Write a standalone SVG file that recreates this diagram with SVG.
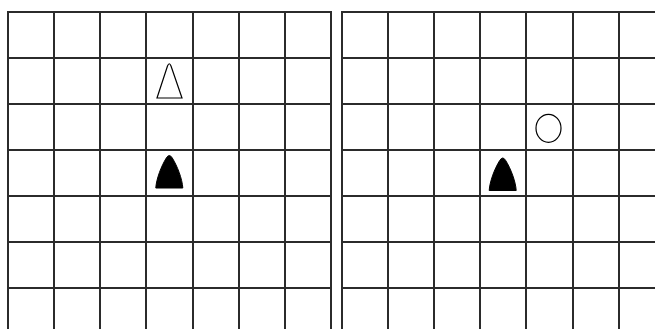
<svg xmlns="http://www.w3.org/2000/svg" width="655" height="329" viewBox="0 0 655 329">
<style>
.grid line{stroke:#2b2b2b;stroke-width:2}
.pawn{fill:#000;stroke:#000;stroke-width:1}
.hollow{fill:#fff;stroke:#000;stroke-width:1.2}
</style>
<defs>
<path id="pawn" d="M-13.5,17 C-13,8 -8,-5 -3,-13 Q0,-18 3,-13 C8,-5 13,8 13.5,17 Z"/>
</defs>
<rect width="655" height="329" fill="#fff"/>
<g id="left-grid" class="grid">
<line x1="8" y1="12" x2="8" y2="329"/>
<line x1="54" y1="12" x2="54" y2="329"/>
<line x1="100" y1="12" x2="100" y2="329"/>
<line x1="146" y1="12" x2="146" y2="329"/>
<line x1="193" y1="12" x2="193" y2="329"/>
<line x1="239" y1="12" x2="239" y2="329"/>
<line x1="285" y1="12" x2="285" y2="329"/>
<line x1="331" y1="12" x2="331" y2="329"/>
<line x1="7" y1="12" x2="332" y2="12"/>
<line x1="7" y1="58" x2="332" y2="58"/>
<line x1="7" y1="104" x2="332" y2="104"/>
<line x1="7" y1="150" x2="332" y2="150"/>
<line x1="7" y1="196" x2="332" y2="196"/>
<line x1="7" y1="242" x2="332" y2="242"/>
<line x1="7" y1="288" x2="332" y2="288"/>
</g>
<g id="right-grid" class="grid">
<line x1="342" y1="12" x2="342" y2="329"/>
<line x1="388" y1="12" x2="388" y2="329"/>
<line x1="434" y1="12" x2="434" y2="329"/>
<line x1="480" y1="12" x2="480" y2="329"/>
<line x1="526" y1="12" x2="526" y2="329"/>
<line x1="573" y1="12" x2="573" y2="329"/>
<line x1="619" y1="12" x2="619" y2="329"/>
<line x1="341" y1="12" x2="655" y2="12"/>
<line x1="341" y1="58" x2="655" y2="58"/>
<line x1="341" y1="104" x2="655" y2="104"/>
<line x1="341" y1="150" x2="655" y2="150"/>
<line x1="341" y1="196" x2="655" y2="196"/>
<line x1="341" y1="242" x2="655" y2="242"/>
<line x1="341" y1="288" x2="655" y2="288"/>
</g>
<g id="connectors"></g>
<g id="hollow-triangle">
<path class="hollow" d="M157,98 L167.5,66 Q169.3,61.5 171,66 L182,98 Z"/>
</g>
<g id="left-pawn">
<use href="#pawn" class="pawn" x="169.3" y="171"/>
</g>
<g id="right-pawn">
<use href="#pawn" class="pawn" x="502.7" y="173.5"/>
</g>
<g id="circle">
<ellipse cx="548.5" cy="128.3" rx="12.5" ry="14" fill="#fff" stroke="#000" stroke-width="1.2"/>
</g>
</svg>
